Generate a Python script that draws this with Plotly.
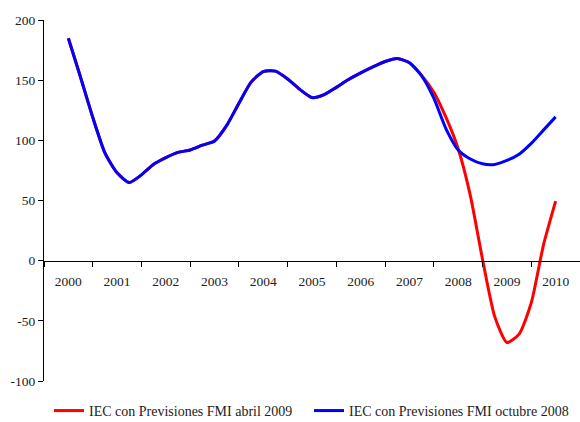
import plotly.graph_objects as go

# Quarterly observations, 2000 .. 2010
years = [2000 + k / 4 for k in range(41)]
year_labels = [str(y) for y in range(2000, 2011)]
y_tickvals = [-100, -50, 0, 50, 100, 150, 200]
y_ticktext = ["-100", "-50", "0", "50", "100", "150", "200"]

iec_oct2008 = [184.8, 152.4, 119.2, 89.6, 73.0, 65.0, 71.3, 80.1, 85.6, 90.0,
               92.0, 96.0, 99.5, 112.4, 130.8, 148.4, 157.1, 157.5, 151.0, 142.3,
               135.5, 138.0, 144.0, 150.5, 156.0, 161.0, 165.5, 168.0, 164.5, 153.5,
               135.0, 109.6, 92.0, 84.5, 80.5, 80.0, 83.3, 88.5, 97.5, 108.5, 119.5]

iec_abr2009 = iec_oct2008[:28] + [164.5, 154.0, 140.0, 119.0, 93.0, 54.0, 1.0,
                                  -46.5, -68.0, -61.0, -35.0, 13.0, 49.5]

name_red = "IEC con Previsiones FMI abril 2009"
name_blue = "IEC con Previsiones FMI octubre 2008"

font_family = "Liberation Serif, Times New Roman, serif"
legend_font = dict(family=font_family, size=14, color="#222222")

fig = go.Figure()
fig.add_trace(go.Scatter(x=years, y=iec_abr2009, mode="lines", name=name_red,
                         legend="legend",
                         line=dict(color="#FF0000", width=3, shape="spline", smoothing=0.6)))
fig.add_trace(go.Scatter(x=years, y=iec_oct2008, mode="lines", name=name_blue,
                         legend="legend2",
                         line=dict(color="#0000FF", width=3, shape="spline", smoothing=0.6)))

fig.update_layout(
    width=580, height=422,
    margin=dict(l=44, r=0, t=20, b=41, autoexpand=False),
    paper_bgcolor="white", plot_bgcolor="white",
    font=dict(family=font_family, size=13.5, color="#222222"),
    showlegend=True,
    legend=dict(orientation="h", x=0.0093, xanchor="left", y=-0.083, yanchor="middle",
                font=legend_font, bgcolor="rgba(0,0,0,0)"),
    legend2=dict(orientation="h", x=0.4944, xanchor="left", y=-0.083, yanchor="middle",
                 font=legend_font, bgcolor="rgba(0,0,0,0)"),
    xaxis=dict(range=[1999.5, 2010.5], anchor="free", position=1/3,
               showline=True, linecolor="black", linewidth=1,
               showgrid=False, zeroline=False, automargin=False,
               tickmode="array", tickvals=list(range(2000, 2011)), ticktext=year_labels,
               ticks="", ticklabelstandoff=8,
               minor=dict(tickmode="linear", tick0=1999.5, dtick=1, ticks="outside",
                          ticklen=5, tickcolor="black", showgrid=False)),
    yaxis=dict(range=[-100, 200], domain=[0, 1], showline=True, linecolor="black",
               linewidth=1, showgrid=False, zeroline=False, automargin=False,
               tickmode="array", tickvals=y_tickvals, ticktext=y_ticktext,
               ticks="outside", ticklen=5, tickcolor="black"),
)

fig.write_html(
    "out.html",
    config={"displayModeBar": False},
    post_script="document.body.style.margin='0';document.body.style.overflow='hidden';",
)
